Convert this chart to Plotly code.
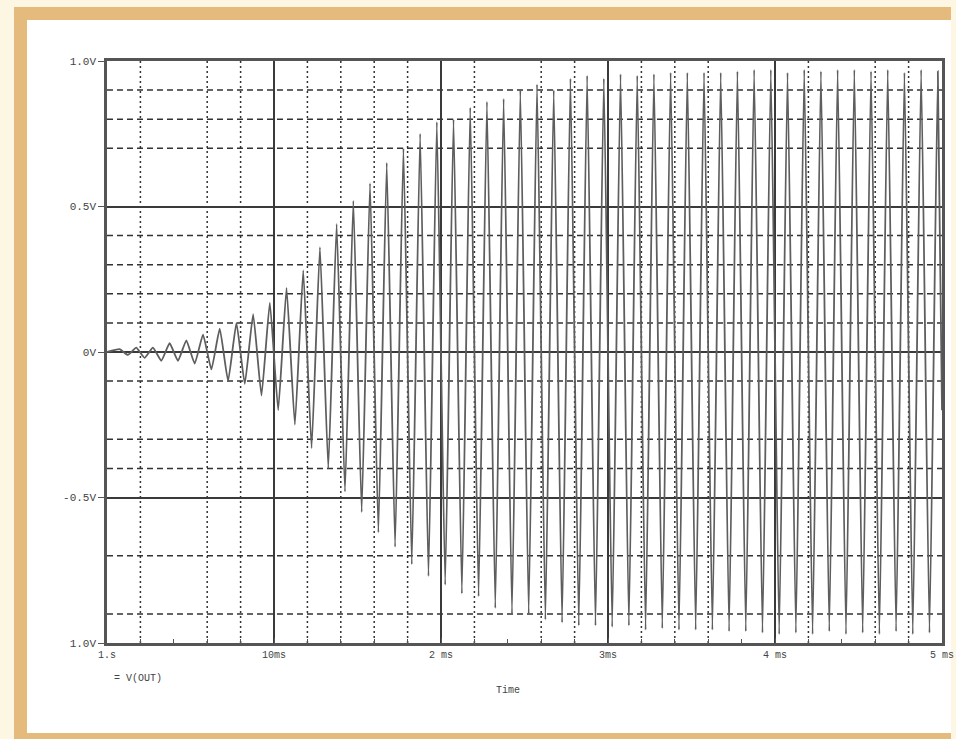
import plotly.graph_objects as go

# ---- data (time in ms, voltage in V) ----
peak_t = [0.075, 0.175, 0.275, 0.375, 0.475, 0.575, 0.675, 0.775, 0.875, 0.975,
          1.075, 1.175, 1.275, 1.375, 1.475, 1.575, 1.675, 1.775, 1.875, 1.975,
          2.075, 2.175, 2.275, 2.375, 2.475, 2.575, 2.675, 2.775, 2.875, 2.975,
          3.075, 3.175, 3.275, 3.375, 3.475, 3.575, 3.675, 3.775, 3.875, 3.975,
          4.075, 4.175, 4.275, 4.375, 4.475, 4.575, 4.675, 4.775, 4.875, 4.975]
peak_v = [0.01, 0.015, 0.015, 0.03, 0.04, 0.06, 0.08, 0.10, 0.13, 0.17,
          0.22, 0.28, 0.36, 0.44, 0.52, 0.58, 0.65, 0.70, 0.75, 0.79,
          0.80, 0.84, 0.86, 0.87, 0.90, 0.92, 0.90, 0.94, 0.95, 0.94,
          0.955, 0.95, 0.955, 0.96, 0.96, 0.96, 0.96, 0.965, 0.97, 0.97,
          0.96, 0.97, 0.965, 0.97, 0.97, 0.965, 0.97, 0.96, 0.97, 0.965]
trough_t = [0.125, 0.225, 0.325, 0.425, 0.525, 0.625, 0.725, 0.825, 0.925, 1.025,
            1.125, 1.225, 1.325, 1.425, 1.525, 1.625, 1.725, 1.825, 1.925, 2.025,
            2.125, 2.225, 2.325, 2.425, 2.525, 2.625, 2.725, 2.825, 2.925, 3.025,
            3.125, 3.225, 3.325, 3.425, 3.525, 3.625, 3.725, 3.825, 3.925, 4.025,
            4.125, 4.225, 4.325, 4.425, 4.525, 4.625, 4.725, 4.825, 4.925]
trough_v = [-0.01, -0.02, -0.03, -0.03, -0.04, -0.06, -0.10, -0.11, -0.15, -0.20,
            -0.25, -0.33, -0.40, -0.48, -0.55, -0.62, -0.67, -0.73, -0.77, -0.80,
            -0.83, -0.84, -0.88, -0.90, -0.90, -0.92, -0.93, -0.94, -0.94, -0.945,
            -0.94, -0.955, -0.95, -0.955, -0.955, -0.955, -0.96, -0.96, -0.965, -0.97,
            -0.965, -0.97, -0.96, -0.97, -0.965, -0.97, -0.96, -0.97, -0.965]
start_t, start_v = 0.0, 0.0
end_t, end_v = 5.0, -0.2

x_tickvals = [0, 1, 2, 3, 4, 5]
x_ticktext = ["1.s", "10ms", "2 ms", "3ms", "4 ms", "5 ms"]
y_tickvals = [1.0, 0.5, 0.0, -0.5, -1.0]
y_ticktext = ["1.0V", "0.5V", "0V", "-0.5V", "1.0V"]
dashed_y = [0.9, 0.8, 0.7, 0.4, 0.3, 0.2, 0.1, -0.1, -0.3, -0.4, -0.7, -0.9]
dotted_x = [0.2, 0.6, 0.8, 1.2, 1.4, 1.6, 1.8, 2.2, 2.6, 2.8, 3.2, 3.4, 3.6, 4.2, 4.6, 4.8]
legend_text = "= V(OUT)"
x_title = "Time"

# interleave extrema
ts = [start_t]
vs = [start_v]
for i in range(len(peak_t)):
    ts.append(peak_t[i]); vs.append(peak_v[i])
    if i < len(trough_t):
        ts.append(trough_t[i]); vs.append(trough_v[i])
ts.append(end_t); vs.append(end_v)

W, H = 956, 739
L, R, T, B = 107, 942, 61, 643
pw, ph = R - L, B - T

def px(x):
    return (x - L) / pw

def py(y):
    return (B - y) / ph

fig = go.Figure()
fig.add_trace(go.Scatter(x=ts, y=vs, mode="lines",
                         line=dict(color="#5e5e5e", width=1.8, shape="spline", smoothing=0.4),
                         hoverinfo="skip", showlegend=False))

shapes = [
    dict(type="rect", xref="paper", yref="paper", x0=px(14), x1=px(951), y0=py(745), y1=py(7),
         fillcolor="#e4bb7c", line=dict(width=0), layer="below"),
    dict(type="rect", xref="paper", yref="paper", x0=px(27), x1=px(951), y0=py(733), y1=py(20),
         fillcolor="#ffffff", line=dict(width=0), layer="below"),
]
for yv in dashed_y:
    shapes.append(dict(type="line", xref="x", yref="y", x0=0, x1=5, y0=yv, y1=yv,
                       line=dict(color="#333333", width=1.5, dash="6px,4px"), layer="below"))
for xv in dotted_x:
    shapes.append(dict(type="line", xref="x", yref="y", x0=xv, x1=xv, y0=-1, y1=1,
                       line=dict(color="#333333", width=1.5, dash="2px,3px"), layer="below"))

font = dict(family="Liberation Mono, DejaVu Sans Mono, monospace", size=11, color="#444444")

fig.update_layout(
    width=W, height=H, autosize=False,
    margin=dict(l=L, r=W - R, t=T, b=H - B, autoexpand=False),
    paper_bgcolor="#fdf6e3",
    plot_bgcolor="#ffffff",
    shapes=shapes,
    font=font,
    xaxis=dict(range=[0, 5], tickvals=x_tickvals, ticktext=x_ticktext, automargin=False,
               showgrid=True, gridcolor="#3a3a3a", gridwidth=1.5,
               showline=True, linecolor="#555555", linewidth=2.5, mirror=True,
               ticks="inside", ticklen=5, tickcolor="#555555",
               minor=dict(dtick=0.2, ticks="inside", ticklen=4, tickcolor="#555555", showgrid=False),
               zeroline=False, tickfont=dict(size=10, color="#444444")),
    yaxis=dict(range=[-1, 1], tickvals=y_tickvals, ticktext=y_ticktext, automargin=False,
               showgrid=True, gridcolor="#3a3a3a", gridwidth=1.5,
               showline=True, linecolor="#555555", linewidth=2.5, mirror=True,
               ticks="outside", ticklen=6, tickcolor="#555555",
               zeroline=False, tickfont=dict(size=11, color="#444444")),
    annotations=[
        dict(text=legend_text, xref="paper", yref="paper", x=px(112), y=py(678),
             xanchor="left", yanchor="middle", showarrow=False,
             font=dict(size=10, color="#444444")),
        dict(text=x_title, xref="paper", yref="paper", x=px(508), y=py(690),
             xanchor="center", yanchor="middle", showarrow=False,
             font=dict(size=10, color="#444444")),
    ],
)

fig.write_html("out.html",
               config={"displayModeBar": False, "responsive": False},
               default_width="956px", default_height="739px",
               post_script="document.body.style.margin='0';document.body.style.padding='0';"
                           "document.body.style.overflow='hidden';")
